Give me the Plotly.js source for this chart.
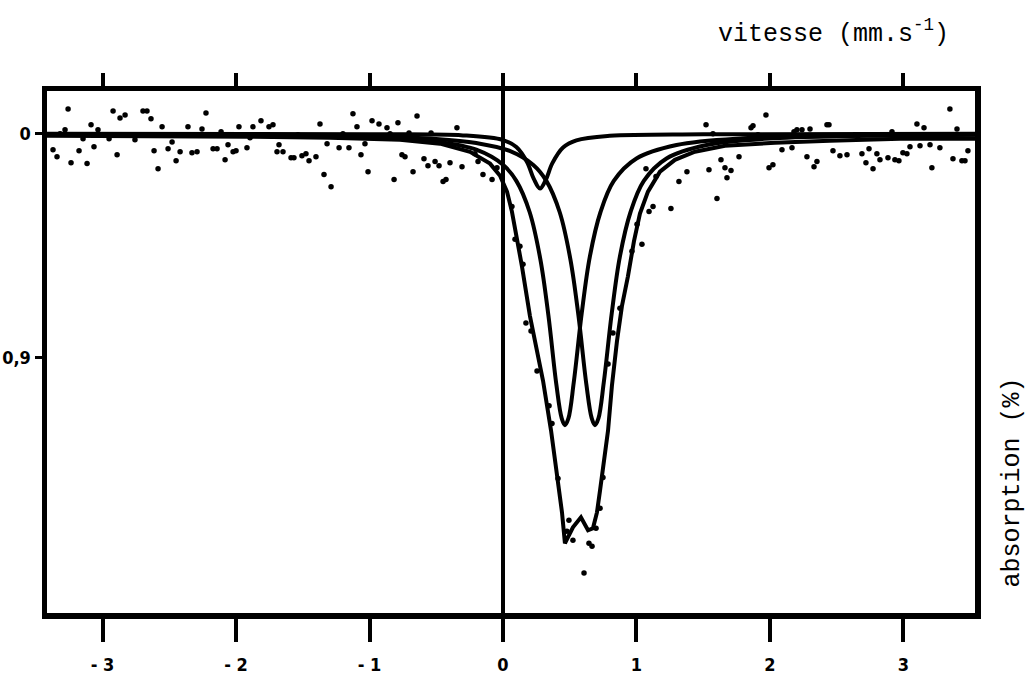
<!DOCTYPE html>
<html>
<head>
<meta charset="utf-8">
<script src="https://cdn.plot.ly/plotly-3.0.1.min.js"></script>
<style>
html,body{margin:0;padding:0;background:#fff;}
#chart{width:1036px;height:680px;}
</style>
</head>
<body>
<div id="chart"></div>
<script>
// measured points: velocity (mm/s) and relative transmission (1 = baseline "0", 0.9 = "0,9")
const pointsV = [-3.371,-3.341,-3.318,-3.281,-3.258,-3.236,-3.176,-3.146,-3.116,-3.086,-3.064,-3.034,-2.951,-2.921,-2.891,-2.869,-2.831,-2.757,-2.697,-2.667,-2.637,-2.614,-2.584,-2.554,-2.509,-2.479,-2.449,-2.419,-2.360,-2.330,-2.292,-2.255,-2.225,-2.172,-2.142,-2.112,-2.082,-2.060,-2.022,-2.000,-1.978,-1.918,-1.895,-1.873,-1.813,-1.753,-1.723,-1.693,-1.678,-1.648,-1.588,-1.566,-1.536,-1.506,-1.476,-1.453,-1.401,-1.371,-1.341,-1.318,-1.288,-1.228,-1.199,-1.154,-1.124,-1.094,-1.064,-1.034,-1.011,-0.981,-0.929,-0.869,-0.846,-0.816,-0.787,-0.757,-0.734,-0.704,-0.674,-0.644,-0.592,-0.562,-0.539,-0.509,-0.479,-0.449,-0.427,-0.397,-0.345,-0.307,-0.210,-0.187,-0.150,-0.082,-0.045,0.067,0.090,0.127,0.150,0.172,0.210,0.255,0.345,0.367,0.412,0.479,0.494,0.524,0.607,0.644,0.667,0.697,0.727,0.749,0.787,0.824,0.876,0.966,1.004,1.041,1.071,1.094,1.124,1.146,1.258,1.318,1.378,1.521,1.543,1.573,1.603,1.633,1.663,1.678,1.708,1.768,1.858,1.873,1.910,1.970,1.993,2.022,2.090,2.165,2.180,2.202,2.240,2.277,2.300,2.330,2.352,2.427,2.442,2.472,2.524,2.577,2.659,2.689,2.719,2.742,2.772,2.801,2.824,2.884,2.914,2.936,2.966,2.996,3.026,3.049,3.101,3.124,3.154,3.199,3.213,3.273,3.348,3.371,3.401,3.438,3.461,3.483];
const pointsT = [0.9929,0.9898,1.0000,1.0018,1.0111,0.9871,0.9924,0.9978,0.9867,1.0040,0.9942,1.0018,0.9978,1.0102,0.9907,1.0071,1.0084,0.9973,1.0102,1.0102,1.0067,0.9924,0.9844,1.0031,0.9933,0.9964,0.9880,0.9920,1.0031,0.9916,0.9920,1.0022,1.0093,0.9933,0.9933,1.0009,0.9884,0.9951,0.9920,0.9924,1.0031,0.9938,0.9982,1.0031,1.0058,1.0031,1.0040,0.9920,0.9951,0.9920,0.9893,0.9893,0.9996,0.9902,0.9911,0.9880,0.9898,1.0044,0.9818,0.9956,0.9764,0.9938,1.0000,0.9938,1.0089,1.0031,0.9907,0.9956,0.9831,1.0058,1.0044,1.0027,1.0000,0.9796,1.0049,0.9907,0.9898,1.0004,0.9831,1.0080,0.9889,0.9858,1.0004,0.9876,0.9858,0.9787,0.9796,0.9871,1.0027,0.9853,0.9911,0.9876,0.9818,0.9796,0.9849,0.9676,0.9529,0.9498,0.9418,0.9156,0.9120,0.8942,0.8787,0.8707,0.8462,0.8227,0.8276,0.8187,0.8040,0.8173,0.8160,0.8240,0.8329,0.8467,0.8973,0.9111,0.9222,0.9476,0.9596,0.9507,0.9844,0.9653,0.9676,0.9809,0.9667,0.9787,0.9831,1.0040,0.9840,1.0000,0.9711,0.9884,0.9849,0.9804,0.9836,0.9898,1.0027,1.0036,0.9996,1.0084,0.9849,0.9862,0.9929,0.9938,1.0009,1.0018,1.0018,0.9898,1.0022,0.9853,0.9876,1.0040,1.0040,0.9924,0.9902,0.9907,0.9991,0.9911,0.9871,0.9933,0.9844,0.9911,0.9884,0.9893,1.0009,0.9884,0.9880,0.9916,0.9911,0.9942,1.0044,0.9947,1.0027,0.9951,0.9849,0.9938,1.0111,0.9889,1.0022,0.9880,0.9880,0.9924];

// fitted envelope (total)
const envV = [-3.416,-2.644,-1.895,-1.296,-0.772,-0.472,-0.247,-0.097,-0.022,0.030,0.067,0.105,0.142,0.202,0.255,0.300,0.360,0.412,0.442,0.464,0.524,0.584,0.637,0.674,0.704,0.727,0.757,0.787,0.816,0.854,0.891,0.936,0.981,1.026,1.086,1.176,1.288,1.438,1.663,2.037,2.449,2.974,3.536];
const envT = [0.9991,0.9991,0.9987,0.9982,0.9973,0.9956,0.9920,0.9867,0.9813,0.9742,0.9653,0.9529,0.9409,0.9187,0.9031,0.8898,0.8676,0.8462,0.8311,0.8173,0.8244,0.8289,0.8231,0.8240,0.8311,0.8409,0.8533,0.8676,0.8876,0.9076,0.9231,0.9364,0.9520,0.9644,0.9742,0.9831,0.9884,0.9920,0.9947,0.9960,0.9969,0.9978,0.9978];

// component A (left line of main doublet)
const compAV = [-3.416,-2,-1,-0.5,-0.2,0,0.1,0.2,0.28,0.34,0.40,0.44,0.464,0.49,0.53,0.59,0.65,0.73,0.83,1.0,1.3,1.8,2.5,3.536];
const compAT = [0.9998,0.9995,0.9985,0.9965,0.9929,0.9862,0.979,0.965,0.944,0.919,0.888,0.873,0.870,0.873,0.889,0.920,0.945,0.965,0.979,0.989,0.995,0.998,0.999,0.9996];
// component B (right line of main doublet)
const compBV = [-3.416,-2,-1,-0.5,-0.2,0.05,0.225,0.325,0.425,0.505,0.565,0.625,0.665,0.689,0.715,0.755,0.815,0.875,0.955,1.055,1.225,1.525,2.025,2.725,3.536];
const compBT = [0.9998,0.9995,0.9988,0.9977,0.9959,0.9924,0.9862,0.979,0.965,0.944,0.919,0.888,0.873,0.870,0.873,0.889,0.920,0.945,0.965,0.979,0.989,0.995,0.998,0.9992,0.9996];
// component C (small line)
const compCV = [-3.416,-1,-0.3,0,0.1,0.18,0.23,0.277,0.32,0.37,0.45,0.55,0.8,1.5,3.536];
const compCT = [1.0,0.9998,0.9993,0.9972,0.9941,0.9874,0.980,0.9756,0.9794,0.9869,0.9939,0.9971,0.9991,0.9998,1.0];

const xTickVals = [-3,-2,-1,0,1,2,3];
const xTickText = ['- 3','- 2','- 1','0','1','2','3'];
const yTickVals = [1.0,0.9];
const yTickText = ['0','0,9'];

const lineStyle = {color:'#000', width:4};
const traces = [
  {x:compAV, y:compAT, mode:'lines', line:Object.assign({shape:'spline'},lineStyle), hoverinfo:'skip'},
  {x:compBV, y:compBT, mode:'lines', line:Object.assign({shape:'spline'},lineStyle), hoverinfo:'skip'},
  {x:compCV, y:compCT, mode:'lines', line:Object.assign({shape:'spline'},lineStyle), hoverinfo:'skip'},
  {x:envV, y:envT, mode:'lines', line:Object.assign({shape:'linear'},lineStyle), hoverinfo:'skip'},
  {x:pointsV, y:pointsT, mode:'markers', marker:{color:'#000', size:5.5}, hoverinfo:'skip'},
  {x:[0], y:[1], xaxis:'x2', mode:'markers', marker:{opacity:0}, hoverinfo:'skip'}
];

const tickFont = {family:'"Liberation Sans Narrow", "DejaVu Sans Condensed", sans-serif', size:18, color:'#000', weight:'bold'};
const layout = {
  width:1036, height:680,
  margin:{l:47, r:61, t:91, b:67},
  paper_bgcolor:'#fff', plot_bgcolor:'#fff',
  showlegend:false,
  xaxis:{
    range:[-3.416, 3.536], tickvals:xTickVals, ticktext:xTickText,
    ticks:'outside', ticklen:23, tickwidth:4, tickcolor:'#000',
    showline:true, linewidth:5.5, linecolor:'#000', mirror:true,
    showgrid:false, zeroline:true, zerolinecolor:'#000', zerolinewidth:3.5,
    tickfont:tickFont, ticklabelstandoff:8
  },
  xaxis2:{
    overlaying:'x', side:'top', matches:'x', range:[-3.416,3.536],
    tickvals:xTickVals, showticklabels:false,
    ticks:'outside', ticklen:17, tickwidth:4, tickcolor:'#000',
    showline:false, showgrid:false, zeroline:false
  },
  yaxis:{
    range:[0.7862, 1.0191], tickvals:yTickVals, ticktext:yTickText,
    ticks:'outside', ticklen:7, tickwidth:3, tickcolor:'#000',
    showline:true, linewidth:5.5, linecolor:'#000', mirror:true,
    showgrid:false, zeroline:false, tickfont:tickFont
  },
  annotations:[
    {xref:'paper', yref:'paper', x:0.848, y:1, yshift:59, xanchor:'center', yanchor:'middle',
     text:'vitesse (mm.s<sup>-1</sup>)', showarrow:false,
     font:{family:'"Liberation Mono", "DejaVu Sans Mono", monospace', size:25, color:'#000'}},
    {xref:'paper', yref:'paper', x:1, xshift:37, y:0.25, xanchor:'center', yanchor:'middle',
     text:'absorption (%)', textangle:-90, showarrow:false,
     font:{family:'"Liberation Mono", "DejaVu Sans Mono", monospace', size:25, color:'#000'}}
  ]
};

Plotly.newPlot('chart', traces, layout, {displayModeBar:false, staticPlot:true});
</script>
</body>
</html>
